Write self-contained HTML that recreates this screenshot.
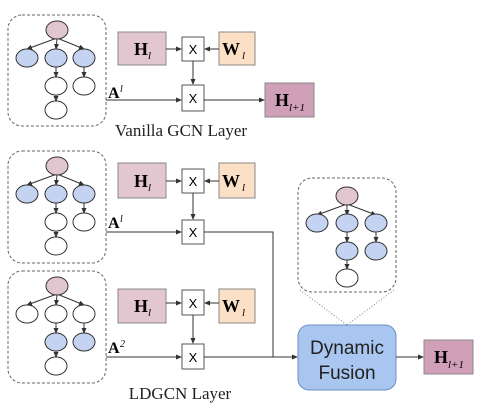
<!DOCTYPE html>
<html><head><style>body{margin:0;background:#fff}svg{display:block}</style></head><body>
<svg width="480" height="418" viewBox="0 0 480 418" xmlns="http://www.w3.org/2000/svg" font-family="Liberation Serif, serif">
<defs>
<marker id="a" markerWidth="6" markerHeight="6" refX="5" refY="3" orient="auto" markerUnits="userSpaceOnUse"><path d="M0,0.5 L6,3 L0,5.5z" fill="#333"/></marker>
</defs>
<g stroke="#333" stroke-width="1" fill="none">
<!-- graph template rendered per instance -->
</g>
<!-- Graph 1 -->
<g id="g1">
<rect x="8" y="15" width="98" height="111" rx="14" fill="none" stroke="#666" stroke-dasharray="3,2"/>
<g stroke="#333" stroke-width="1" marker-end="url(#a)">
<line x1="57" y1="38" x2="27" y2="49"/><line x1="57" y1="39" x2="56" y2="49"/><line x1="57" y1="38" x2="84" y2="49"/>
<line x1="56" y1="67" x2="56" y2="77"/><line x1="84" y1="67" x2="84" y2="77"/><line x1="56" y1="95" x2="56" y2="101"/>
</g>
<g stroke="#333" stroke-width="1">
<ellipse cx="57" cy="30" rx="11" ry="9" fill="#e2c6d0"/>
<ellipse cx="27" cy="58" rx="11" ry="9" fill="#c3d3f1"/>
<ellipse cx="56" cy="58" rx="11" ry="9" fill="#c3d3f1"/>
<ellipse cx="84" cy="58" rx="11" ry="9" fill="#c3d3f1"/>
<ellipse cx="56" cy="86" rx="11" ry="9" fill="#fff"/>
<ellipse cx="84" cy="86" rx="11" ry="9" fill="#fff"/>
<ellipse cx="56" cy="110" rx="11" ry="9" fill="#fff"/>
</g>
</g>
<!-- Graph 2 -->
<g transform="translate(0,136)">
<rect x="8" y="15" width="98" height="112" rx="14" fill="none" stroke="#666" stroke-dasharray="3,2"/>
<g stroke="#333" stroke-width="1" marker-end="url(#a)">
<line x1="57" y1="38" x2="27" y2="49"/><line x1="57" y1="39" x2="56" y2="49"/><line x1="57" y1="38" x2="84" y2="49"/>
<line x1="56" y1="67" x2="56" y2="77"/><line x1="84" y1="67" x2="84" y2="77"/><line x1="56" y1="95" x2="56" y2="101"/>
</g>
<g stroke="#333" stroke-width="1">
<ellipse cx="57" cy="30" rx="11" ry="9" fill="#e2c6d0"/>
<ellipse cx="27" cy="58" rx="11" ry="9" fill="#c3d3f1"/>
<ellipse cx="56" cy="58" rx="11" ry="9" fill="#c3d3f1"/>
<ellipse cx="84" cy="58" rx="11" ry="9" fill="#c3d3f1"/>
<ellipse cx="56" cy="86" rx="11" ry="9" fill="#fff"/>
<ellipse cx="84" cy="86" rx="11" ry="9" fill="#fff"/>
<ellipse cx="56" cy="110" rx="11" ry="9" fill="#fff"/>
</g>
</g>
<!-- Graph 3 -->
<g transform="translate(0,256)">
<rect x="8" y="15" width="98" height="112" rx="14" fill="none" stroke="#666" stroke-dasharray="3,2"/>
<g stroke="#333" stroke-width="1" marker-end="url(#a)">
<line x1="57" y1="38" x2="27" y2="49"/><line x1="57" y1="39" x2="56" y2="49"/><line x1="57" y1="38" x2="84" y2="49"/>
<line x1="56" y1="67" x2="56" y2="77"/><line x1="84" y1="67" x2="84" y2="77"/><line x1="56" y1="95" x2="56" y2="101"/>
</g>
<g stroke="#333" stroke-width="1">
<ellipse cx="57" cy="30" rx="11" ry="9" fill="#e2c6d0"/>
<ellipse cx="27" cy="58" rx="11" ry="9" fill="#fff"/>
<ellipse cx="56" cy="58" rx="11" ry="9" fill="#fff"/>
<ellipse cx="84" cy="58" rx="11" ry="9" fill="#fff"/>
<ellipse cx="56" cy="86" rx="11" ry="9" fill="#c3d3f1"/>
<ellipse cx="84" cy="86" rx="11" ry="9" fill="#c3d3f1"/>
<ellipse cx="56" cy="110" rx="11" ry="9" fill="#fff"/>
</g>
</g>
<!-- Graph right -->
<g transform="translate(290,166)">
<rect x="8" y="12" width="98" height="114" rx="14" fill="none" stroke="#666" stroke-dasharray="3,2"/>
<g stroke="#333" stroke-width="1" marker-end="url(#a)">
<line x1="57" y1="38" x2="27" y2="49"/><line x1="57" y1="39" x2="57" y2="49"/><line x1="57" y1="38" x2="86" y2="49"/>
<line x1="57" y1="66" x2="57" y2="76"/><line x1="86" y1="66" x2="86" y2="76"/><line x1="57" y1="94" x2="57" y2="103"/>
</g>
<g stroke="#333" stroke-width="1">
<ellipse cx="57" cy="30" rx="11" ry="9" fill="#e2c6d0"/>
<ellipse cx="27" cy="57" rx="11" ry="9" fill="#c3d3f1"/>
<ellipse cx="57" cy="57" rx="11" ry="9" fill="#c3d3f1"/>
<ellipse cx="86" cy="57" rx="11" ry="9" fill="#c3d3f1"/>
<ellipse cx="57" cy="85" rx="11" ry="9" fill="#c3d3f1"/>
<ellipse cx="86" cy="85" rx="11" ry="9" fill="#c3d3f1"/>
<ellipse cx="57" cy="112" rx="11" ry="9" fill="#fff"/>
</g>
</g>
<line x1="300" y1="290" x2="347" y2="325" stroke="#888" stroke-dasharray="1,2"/>
<line x1="394" y1="290" x2="347" y2="325" stroke="#888" stroke-dasharray="1,2"/>

<!-- Vanilla GCN blocks -->
<g id="blk">
<rect x="118" y="32" width="48" height="33" fill="#e2c6d0" stroke="#888"/>
<text x="134" y="55" font-size="18" font-weight="bold">H</text><text x="148" y="59" font-size="11" font-style="italic">l</text>
<rect x="219" y="32" width="36" height="33" fill="#fbe0c6" stroke="#888"/>
<text x="222" y="55" font-size="18" font-weight="bold">W</text><text x="242" y="59" font-size="11" font-style="italic">l</text>
<rect x="182" y="37" width="22" height="24" fill="#fff" stroke="#555"/>
<text x="193" y="54" font-size="13" font-family="Liberation Sans, sans-serif" text-anchor="middle">X</text>
<line x1="166" y1="49" x2="181" y2="49" stroke="#333" marker-end="url(#a)"/>
<line x1="219" y1="49" x2="205" y2="49" stroke="#333" marker-end="url(#a)"/>
<line x1="193" y1="61" x2="193" y2="84" stroke="#333" marker-end="url(#a)"/>
<rect x="182" y="85" width="22" height="26" fill="#fff" stroke="#555"/>
<text x="193" y="103" font-size="13" font-family="Liberation Sans, sans-serif" text-anchor="middle">X</text>
<line x1="106" y1="100" x2="181" y2="100" stroke="#333" marker-end="url(#a)"/>
</g>
<text x="108" y="98" font-size="16" font-weight="bold">A</text><text x="120" y="92" font-size="10" font-style="italic">l</text>
<line x1="204" y1="100" x2="264" y2="100" stroke="#333" marker-end="url(#a)"/>
<rect x="265" y="83" width="49" height="34" fill="#d0a0b8" stroke="#888"/>
<text x="275" y="106" font-size="18" font-weight="bold">H</text><text x="289" y="111" font-size="11" font-style="italic">l+1</text>
<text x="181" y="136" font-size="17" text-anchor="middle" fill="#222">Vanilla GCN Layer</text>

<!-- LDGCN blocks 1 -->
<g transform="translate(0,131)">
<rect x="118" y="32" width="48" height="35" fill="#e2c6d0" stroke="#888"/>
<text x="134" y="56" font-size="18" font-weight="bold">H</text><text x="148" y="60" font-size="11" font-style="italic">l</text>
<rect x="219" y="32" width="36" height="35" fill="#fbe0c6" stroke="#888"/>
<text x="222" y="56" font-size="18" font-weight="bold">W</text><text x="242" y="60" font-size="11" font-style="italic">l</text>
<rect x="182" y="38" width="22" height="24" fill="#fff" stroke="#555"/>
<text x="193" y="55" font-size="13" font-family="Liberation Sans, sans-serif" text-anchor="middle">X</text>
<line x1="166" y1="50" x2="181" y2="50" stroke="#333" marker-end="url(#a)"/>
<line x1="219" y1="50" x2="205" y2="50" stroke="#333" marker-end="url(#a)"/>
<line x1="193" y1="62" x2="193" y2="88" stroke="#333" marker-end="url(#a)"/>
<rect x="182" y="89" width="22" height="24" fill="#fff" stroke="#555"/>
<text x="193" y="106" font-size="13" font-family="Liberation Sans, sans-serif" text-anchor="middle">X</text>
<line x1="106" y1="101" x2="181" y2="101" stroke="#333" marker-end="url(#a)"/>
<text x="108" y="97" font-size="16" font-weight="bold">A</text><text x="120" y="91" font-size="10" font-style="italic">l</text>
</g>
<!-- LDGCN blocks 2 -->
<g transform="translate(0,256)">
<rect x="118" y="33" width="48" height="34" fill="#e2c6d0" stroke="#888"/>
<text x="134" y="56" font-size="18" font-weight="bold">H</text><text x="148" y="60" font-size="11" font-style="italic">l</text>
<rect x="219" y="33" width="36" height="34" fill="#fbe0c6" stroke="#888"/>
<text x="222" y="56" font-size="18" font-weight="bold">W</text><text x="242" y="60" font-size="11" font-style="italic">l</text>
<rect x="182" y="34" width="22" height="25" fill="#fff" stroke="#555"/>
<text x="193" y="52" font-size="13" font-family="Liberation Sans, sans-serif" text-anchor="middle">X</text>
<line x1="166" y1="47" x2="181" y2="47" stroke="#333" marker-end="url(#a)"/>
<line x1="219" y1="47" x2="205" y2="47" stroke="#333" marker-end="url(#a)"/>
<line x1="193" y1="59" x2="193" y2="87" stroke="#333" marker-end="url(#a)"/>
<rect x="182" y="88" width="22" height="25" fill="#fff" stroke="#555"/>
<text x="193" y="106" font-size="13" font-family="Liberation Sans, sans-serif" text-anchor="middle">X</text>
<line x1="106" y1="101" x2="181" y2="101" stroke="#333" marker-end="url(#a)"/>
<text x="108" y="97" font-size="16" font-weight="bold">A</text><text x="120" y="91" font-size="10" font-style="italic">2</text>
</g>
<polyline points="204,232 273,232 273,357" fill="none" stroke="#333"/>
<line x1="204" y1="357" x2="297" y2="357" stroke="#333" marker-end="url(#a)"/>
<text x="180" y="399" font-size="17" text-anchor="middle" fill="#222">LDGCN Layer</text>

<rect x="298" y="325" width="98" height="65" rx="11" fill="#a8c6f0" stroke="#6d8fbf"/>
<text x="347" y="354" font-size="19" font-family="Liberation Sans, sans-serif" text-anchor="middle" fill="#222">Dynamic</text>
<text x="347" y="379" font-size="19" font-family="Liberation Sans, sans-serif" text-anchor="middle" fill="#222">Fusion</text>
<line x1="396" y1="357" x2="423" y2="357" stroke="#333" marker-end="url(#a)"/>
<rect x="424" y="340" width="49" height="34" fill="#d0a0b8" stroke="#888"/>
<text x="434" y="363" font-size="18" font-weight="bold">H</text><text x="448" y="368" font-size="11" font-style="italic">l+1</text>
</svg>
</body></html>
